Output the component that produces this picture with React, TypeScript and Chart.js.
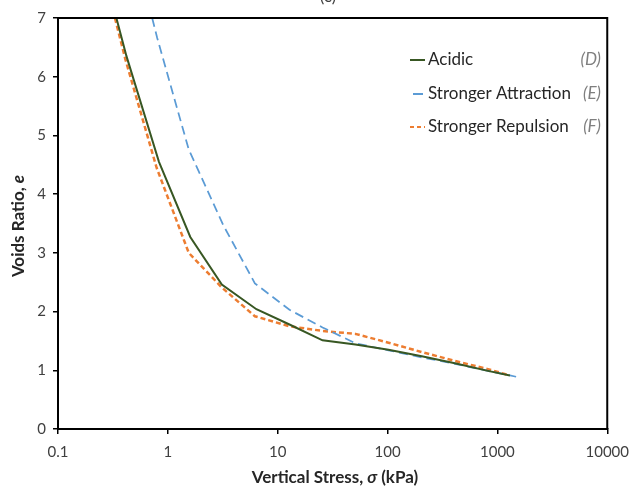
import React, { useEffect, useRef } from 'react';
import { Chart, registerables } from 'chart.js';
Chart.register(...registerables);

const acidicStress = [0.34, 0.42, 0.83, 1.6, 3.1, 6.4, 12.8, 25.6, 51, 102, 205, 410, 820, 1300];
const acidicVoids = [7.0, 6.35, 4.55, 3.27, 2.46, 2.04, 1.78, 1.51, 1.44, 1.35, 1.24, 1.12, 0.99, 0.91];

const attractionStress = [0.72, 0.8, 1.55, 3.2, 6.2, 12.8, 25.6, 51, 102, 205, 410, 820, 1480];
const attractionVoids = [7.0, 6.66, 4.76, 3.47, 2.48, 2.03, 1.73, 1.46, 1.34, 1.22, 1.11, 0.99, 0.89];

const repulsionStress = [0.33, 0.41, 0.79, 1.55, 3.1, 6.2, 12.8, 25.6, 51, 102, 205, 410, 820, 1250];
const repulsionVoids = [7.0, 6.3, 4.45, 3.0, 2.41, 1.92, 1.75, 1.67, 1.62, 1.47, 1.31, 1.16, 1.02, 0.92];

const xTicks = [0.1, 1, 10, 100, 1000, 10000];
const xTickLabels = ['0.1', '1', '10', '100', '1000', '10000'];
const seriesLabels = ['Acidic', 'Stronger Attraction', 'Stronger Repulsion'];
const seriesTags = ['D', 'E', 'F'];
const seriesColors = ['#385723', '#5B9BD5', '#ED7D31'];

const FONT = 'Lato';

type Part = { text: string; font: string; color: string };

function drawParts(ctx: CanvasRenderingContext2D, parts: Part[], x: number, y: number, align: 'center' | 'left' | 'right') {
  let total = 0;
  const widths = parts.map((p) => {
    ctx.font = p.font;
    const w = ctx.measureText(p.text).width;
    total += w;
    return w;
  });
  let cx = align === 'center' ? x - total / 2 : align === 'right' ? x - total : x;
  ctx.textAlign = 'left';
  ctx.textBaseline = 'middle';
  parts.forEach((p, i) => {
    ctx.font = p.font;
    ctx.fillStyle = p.color;
    ctx.fillText(p.text, cx, y);
    cx += widths[i];
  });
}

export default function App() {
  const ref = useRef<HTMLCanvasElement>(null);
  useEffect(() => {
    const toPts = (xs: number[], ys: number[]) => xs.map((x, i) => ({ x, y: ys[i] }));

    const overlay = {
      id: 'overlay',
      afterDraw(chart: any) {
        const ctx: CanvasRenderingContext2D = chart.ctx;
        const a = chart.chartArea;
        ctx.save();
        ctx.strokeStyle = '#000';
        ctx.lineWidth = 2;
        ctx.beginPath();
        ctx.moveTo(a.left, a.top);
        ctx.lineTo(a.right, a.top);
        ctx.lineTo(a.right, a.bottom);
        ctx.stroke();

        ctx.font = `17px ${FONT}`;
        ctx.fillStyle = '#404040';
        ctx.textAlign = 'center';
        ctx.textBaseline = 'alphabetic';
        ctx.fillText('(c)', 328, 2);

        const bold = `bold 17px ${FONT}`;
        const boldIt = `italic bold 17px ${FONT}`;
        drawParts(ctx, [
          { text: 'Vertical Stress, ', font: bold, color: '#262626' },
          { text: 'σ', font: boldIt, color: '#262626' },
          { text: ' (kPa)', font: bold, color: '#262626' },
        ], 335, 478, 'center');

        ctx.save();
        ctx.translate(19, 226);
        ctx.rotate(-Math.PI / 2);
        drawParts(ctx, [
          { text: 'Voids Ratio, ', font: bold, color: '#262626' },
          { text: 'e', font: boldIt, color: '#262626' },
        ], 0, 0, 'center');
        ctx.restore();

        const rows = [60, 94, 127];
        rows.forEach((ry, i) => {
          ctx.strokeStyle = seriesColors[i];
          ctx.lineWidth = 2;
          ctx.setLineDash(i === 2 ? [4, 3] : []);
          ctx.beginPath();
          ctx.moveTo(i === 1 ? 413 : 410, ry);
          ctx.lineTo(i === 1 ? 423 : 425, ry);
          ctx.stroke();
          ctx.setLineDash([]);
          drawParts(ctx, [{ text: seriesLabels[i], font: `17px ${FONT}`, color: '#262626' }], 428, ry, 'left');
          drawParts(ctx, [{ text: `(${seriesTags[i]})`, font: `italic 17px ${FONT}`, color: '#7F7F7F' }], 601, ry, 'right');
        });
        ctx.restore();
      },
    };

    const tickFont = { family: FONT, size: 15 };
    const chart = new Chart(ref.current as HTMLCanvasElement, {
      type: 'line',
      data: {
        datasets: [
          {
            label: seriesLabels[0],
            data: toPts(acidicStress, acidicVoids),
            borderColor: seriesColors[0],
            borderWidth: 2,
            pointRadius: 0,
            tension: 0,
            fill: false,
          },
          {
            label: seriesLabels[1],
            data: toPts(attractionStress, attractionVoids),
            borderColor: seriesColors[1],
            borderWidth: 1.75,
            borderDash: [9, 5],
            pointRadius: 0,
            tension: 0,
            fill: false,
          },
          {
            label: seriesLabels[2],
            data: toPts(repulsionStress, repulsionVoids),
            borderColor: seriesColors[2],
            borderWidth: 2.5,
            borderDash: [5, 3],
            pointRadius: 0,
            tension: 0,
            fill: false,
          },
        ],
      },
      options: {
        responsive: false,
        animation: false,
        layout: { padding: { top: 18, right: 26, left: 0, bottom: 0 } },
        plugins: { legend: { display: false }, tooltip: { enabled: false }, title: { display: false } },
        scales: {
          x: {
            type: 'logarithmic',
            min: 0.1,
            max: 10000,
            afterBuildTicks: (s: any) => {
              s.ticks = xTicks.map((v) => ({ value: v }));
            },
            afterFit: (s: any) => {
              s.height = 62;
            },
            ticks: {
              callback: (_v: any, i: number) => xTickLabels[i],
              font: tickFont,
              color: '#404040',
              padding: 9,
              maxRotation: 0,
              autoSkip: false,
            },
            grid: { display: true, drawOnChartArea: false, drawTicks: true, tickLength: 5, color: '#000', lineWidth: 1.5 },
            border: { display: true, color: '#000', width: 2 },
          },
          y: {
            type: 'linear',
            min: 0,
            max: 7,
            afterFit: (s: any) => {
              s.width = 58;
            },
            ticks: { stepSize: 1, font: tickFont, color: '#404040', padding: 7 },
            grid: { display: true, drawOnChartArea: false, drawTicks: true, tickLength: 5, color: '#000', lineWidth: 1.5 },
            border: { display: true, color: '#000', width: 2 },
          },
        },
      },
      plugins: [overlay],
    } as any);
    return () => chart.destroy();
  }, []);
  return (
    <div style={{ position: 'fixed', left: 0, top: 0, width: 638, height: 491, background: '#fff' }}>
      <canvas ref={ref} width={638} height={491} style={{ display: 'block' }} />
    </div>
  );
}
